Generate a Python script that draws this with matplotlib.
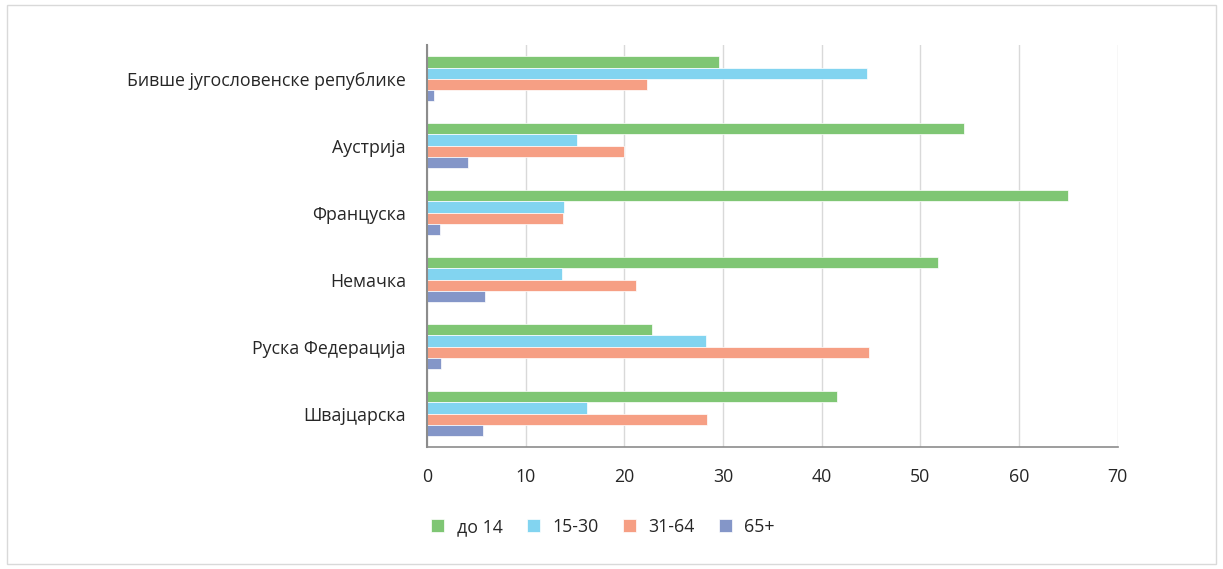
import matplotlib.pyplot as plt
import numpy as np
from matplotlib.patches import Rectangle

plt.rcParams["font.family"] = ["Open Sans", "DejaVu Sans"]

CATEGORIES = [
    "Бивше југословенске републике",
    "Аустрија",
    "Француска",
    "Немачка",
    "Руска Федерација",
    "Швајцарска",
]
SERIES = ["до 14", "15-30", "31-64", "65+"]
UNDER_14 = [29.6, 54.4, 65.0, 51.8, 22.8, 41.6]
AGE_15_30 = [44.6, 15.2, 13.9, 13.7, 28.3, 16.2]
AGE_31_64 = [22.3, 20.0, 13.8, 21.2, 44.8, 28.4]
OVER_65 = [0.7, 4.2, 1.3, 5.9, 1.4, 5.7]
COLORS = ["#7FC674", "#82D4F0", "#F69F84", "#8496C8"]

fig = plt.figure(figsize=(12.23, 5.69), dpi=100)
ax = fig.add_axes([0.349, 0.2144, 0.565, 0.706])

y = np.arange(len(CATEGORIES))
h = 0.168
for i, (vals, col, lab) in enumerate(zip([UNDER_14, AGE_15_30, AGE_31_64, OVER_65], COLORS, SERIES)):
    ax.barh(y + (i - 1.5) * h, vals, height=h, color=col, label=lab, zorder=3,
            edgecolor="white", linewidth=0.5)

ax.set_ylim(len(CATEGORIES) - 0.5, -0.5)
ax.set_xlim(0, 70)
ax.set_xticks(range(0, 71, 10))
ax.set_yticks(y)
ax.set_yticklabels(CATEGORIES, fontsize=12.8, color="#262626")
ax.tick_params(axis="x", labelsize=12.8, colors="#262626", length=0, pad=15)
ax.tick_params(axis="y", length=0, pad=15)
ax.grid(axis="x", color="#D9D9D9", linewidth=1, zorder=0)
for s in ["top", "right"]:
    ax.spines[s].set_visible(False)
ax.spines["left"].set_color("#8C8C8C")
ax.spines["left"].set_linewidth(1.5)
ax.spines["bottom"].set_color("#8C8C8C")
ax.spines["bottom"].set_linewidth(1.2)
ax.spines["left"].set_zorder(4)

fig.legend(loc="center", bbox_to_anchor=(0.493, 0.074), ncol=4, frameon=False,
           fontsize=12.8, handlelength=0.75, handleheight=0.75, columnspacing=1.35,
           handletextpad=0.7, labelcolor="#262626")

fig.patches.append(Rectangle((0.006, 0.008), 0.988, 0.984, transform=fig.transFigure,
                             fill=False, edgecolor="#D9D9D9", linewidth=1))

fig.savefig("out.png", dpi=100)
